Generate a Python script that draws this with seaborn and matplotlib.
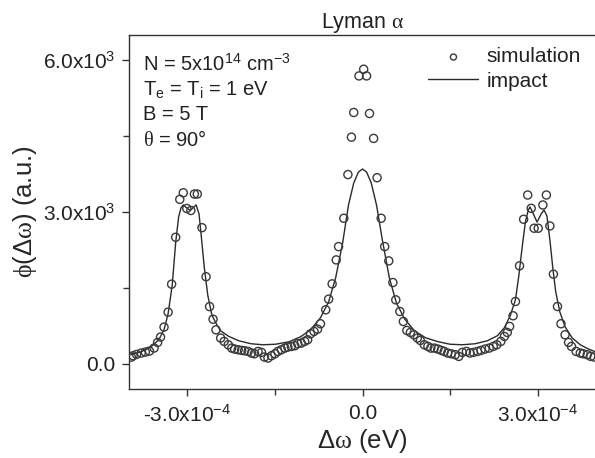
import numpy as np
import pandas as pd
import seaborn as sns
import matplotlib as mpl
mpl.use("Agg")
import matplotlib.pyplot as plt

# simulation points, dw in units of 1e-4 eV
sim_dw = [-3.96, -3.93, -3.87, -3.79, -3.72, -3.65, -3.57, -3.51, -3.46, -3.40,
          -3.33, -3.27, -3.20, -3.13, -3.07, -3.01, -2.94, -2.88, -2.83, -2.75,
          -2.68, -2.62, -2.56, -2.51, -2.43, -2.37, -2.30, -2.24, -2.19, -2.13,
          -2.07, -2.02, -1.96, -1.90, -1.85, -1.79, -1.73, -1.68, -1.62, -1.56,
          -1.50, -1.45, -1.39, -1.33, -1.28, -1.22, -1.16, -1.11, -1.05, -0.99,
          -0.94, -0.89, -0.83, -0.77, -0.72, -0.63, -0.58, -0.52, -0.45, -0.41,
          -0.32, -0.25, -0.19, -0.15, -0.06, 0.02, 0.07, 0.12, 0.19, 0.25,
          0.32, 0.38, 0.45, 0.52, 0.57, 0.64, 0.70, 0.76, 0.82, 0.88,
          0.94, 0.99, 1.06, 1.12, 1.17, 1.23, 1.29, 1.35, 1.40, 1.46,
          1.52, 1.59, 1.65, 1.71, 1.78, 1.84, 1.90, 1.97, 2.03, 2.10,
          2.17, 2.24, 2.30, 2.37, 2.43, 2.48, 2.52, 2.58, 2.62, 2.69,
          2.76, 2.83, 2.89, 2.94, 3.01, 3.09, 3.15, 3.21, 3.27, 3.34,
          3.40, 3.47, 3.53, 3.58, 3.66, 3.73, 3.78, 3.85, 3.91, 3.97]
sim_phi = [130, 158, 184, 211, 230, 250, 310, 420, 527, 724,
           1020, 1573, 2500, 3250, 3380, 3070, 3030, 3355, 3355, 2690,
           1720, 1130, 880, 670, 507, 441, 375, 309, 289, 276,
           263, 257, 243, 211, 197, 243, 224, 132, 112, 158,
           197, 243, 276, 309, 329, 342, 355, 395, 408, 441,
           474, 592, 638, 684, 790, 1066, 1277, 1579, 2053, 2316,
           2876, 3740, 4480, 4968, 5691, 5823, 5691, 4948, 4455, 3678,
           2876, 2316, 2033, 1605, 1263, 1033, 835, 658, 618, 572,
           507, 460, 375, 342, 309, 309, 290, 263, 243, 211,
           197, 178, 145, 224, 243, 211, 224, 243, 263, 290,
           309, 342, 375, 441, 539, 618, 737, 948, 1230, 1935,
           2856, 3336, 3073, 2679, 2679, 3139, 3336, 2724, 1771, 1131,
           790, 572, 421, 342, 243, 211, 197, 178, 145, 132]

# impact calculation
imp_dw = [-3.97, -3.79, -3.62, -3.49, -3.40, -3.33, -3.26, -3.20, -3.15, -3.11,
          -3.07, -3.01, -2.95, -2.89, -2.85, -2.80, -2.76, -2.71, -2.65, -2.58,
          -2.50, -2.43, -2.29, -2.12, -1.91, -1.71, -1.49, -1.26, -1.06, -0.89,
          -0.72, -0.58, -0.46, -0.34, -0.24, -0.15, -0.07, 0.0, 0.07, 0.15,
          0.24, 0.34, 0.46, 0.58, 0.72, 0.89, 1.08, 1.30, 1.50, 1.71,
          1.93, 2.14, 2.31, 2.43, 2.53, 2.62, 2.68, 2.74, 2.79, 2.84,
          2.87, 2.92, 2.99, 3.06, 3.11, 3.16, 3.21, 3.26, 3.31, 3.38,
          3.47, 3.59, 3.73, 3.86, 3.98]
imp_phi = [178, 237, 336, 474, 671, 990, 1550, 2400, 2900, 3080,
           3140, 3080, 3030, 3100, 3140, 2960, 2500, 1900, 1350, 960,
           780, 650, 540, 454, 395, 375, 385, 434, 533, 671,
           908, 1224, 1698, 2389, 3139, 3573, 3790, 3850, 3790, 3573,
           3139, 2448, 1698, 1204, 888, 651, 513, 434, 385, 375,
           395, 454, 553, 711, 948, 1263, 1757, 2349, 2800, 3040,
           3100, 2980, 2800, 2960, 3040, 2920, 2448, 1895, 1421, 1026,
           730, 513, 375, 296, 240]

notes = ["N = 5x10$^{14}$ cm$^{-3}$",
         "T$_{\\rm e}$ = T$_{\\rm i}$ = 1 eV",
         "B = 5 T",
         "$\\theta$ = 90°"]

sns.set_style("ticks")
plt.rcParams["font.family"] = ["Liberation Sans", "DejaVu Sans"]
plt.rcParams["mathtext.fontset"] = "custom"
plt.rcParams["mathtext.rm"] = "Liberation Sans"
plt.rcParams["mathtext.it"] = "Liberation Serif"
plt.rcParams["mathtext.bf"] = "Liberation Sans:bold"
plt.rcParams["text.color"] = "#222222"

sim = pd.DataFrame({"dw": np.array(sim_dw) * 1e-4, "phi": sim_phi})
imp = pd.DataFrame({"dw": np.array(imp_dw) * 1e-4, "phi": imp_phi})

fig = plt.figure(figsize=(5.95, 4.58), dpi=100)
ax = fig.add_axes([129 / 595, 1 - 389 / 458, 467 / 595, 354 / 458])

sns.scatterplot(data=sim, x="dw", y="phi", ax=ax, marker="o", s=34,
                facecolor="none", edgecolor="#3a3a3a", linewidth=1.0,
                label="simulation", zorder=3)
sns.lineplot(data=imp, x="dw", y="phi", ax=ax, color="#2a2a2a", linewidth=1.0,
             sort=False, estimator=None, label="impact", zorder=2)

ax.set_xlim(-4e-4, 4e-4)
ax.set_ylim(-500, 6500)
ax.set_xticks([-3e-4, 0, 3e-4], ["-3.0x10$^{-4}$", "0.0", "3.0x10$^{-4}$"])
ax.set_xticks([-1.5e-4, 1.5e-4], minor=True)
ax.set_yticks([0, 3000, 6000], ["0.0", "3.0x10$^{3}$", "6.0x10$^{3}$"])
ax.set_yticks([1500, 4500], minor=True)
ax.tick_params(which="major", direction="out", length=5, width=1,
               color="#333333", labelsize=15, labelcolor="#222222")
ax.tick_params(axis="y", which="major", pad=5)
ax.tick_params(axis="x", which="major", pad=6)
ax.tick_params(which="minor", direction="out", length=4, width=1, color="#333333")
for sp in ax.spines.values():
    sp.set_color("#333333")
    sp.set_linewidth(1.0)

ax.set_xlabel("$\\Delta\\omega$ (eV)", fontsize=18.5, labelpad=1)
ax.set_ylabel("$\\phi(\\Delta\\omega)$ (a.u.)", fontsize=18.5, labelpad=3)
ax.set_title("Lyman $\\alpha$", fontsize=15.5, pad=4)

for i, t in enumerate(notes):
    ax.text(0.03, 0.918 - i * 0.0715, t, transform=ax.transAxes,
            fontsize=14.5, va="center", ha="left")

leg = ax.legend(loc="upper right", bbox_to_anchor=(0.995, 1.0), frameon=False,
                fontsize=15, markerscale=0.75, handlelength=2.4,
                handletextpad=0.4, labelspacing=0.25, borderaxespad=0.2)

fig.savefig("out.png", dpi=100)
